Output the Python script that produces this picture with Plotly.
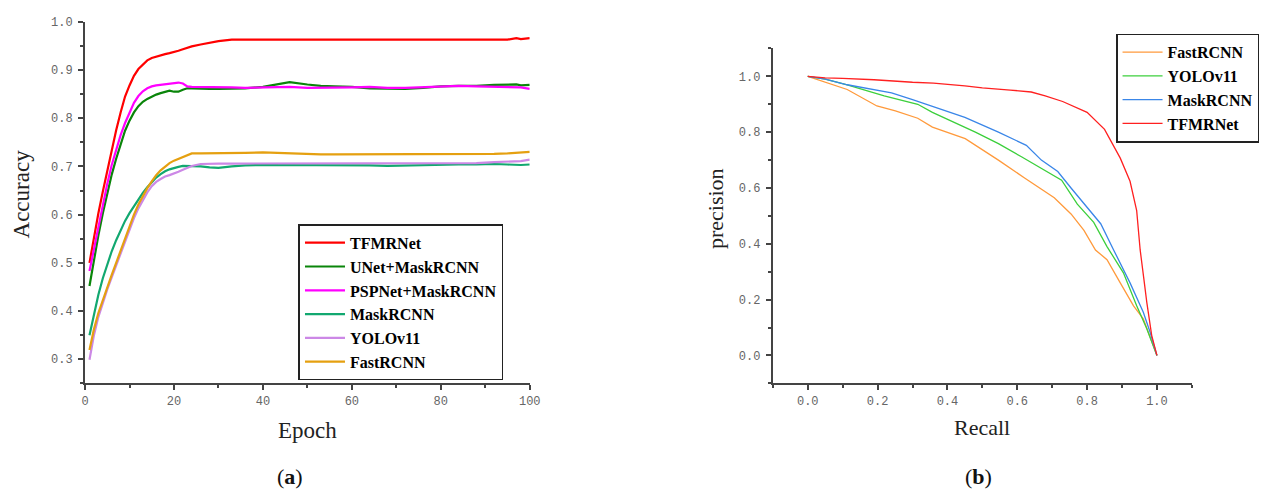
import plotly.graph_objects as go

# ---------------- (a) accuracy vs. epoch ----------------
epochs = [1, 2, 3, 4, 5, 6, 7, 8, 9, 10, 11, 12, 13, 14, 15, 16, 17, 18, 19, 20,
          21, 22, 23, 24, 26, 28, 30, 33, 36, 40, 43, 46, 50, 53, 56, 60, 64, 68,
          72, 76, 80, 84, 88, 92, 95, 97, 98, 100]

acc_tfmrnet = [0.500, 0.553, 0.603, 0.648, 0.692, 0.735, 0.775, 0.812, 0.845, 0.868,
               0.888, 0.902, 0.912, 0.920, 0.925, 0.928, 0.931, 0.933, 0.935, 0.937,
               0.940, 0.943, 0.946, 0.949, 0.953, 0.957, 0.960, 0.963, 0.963, 0.963,
               0.964, 0.963, 0.963, 0.963, 0.963, 0.963, 0.963, 0.963, 0.963, 0.963,
               0.963, 0.963, 0.963, 0.963, 0.963, 0.966, 0.964, 0.966]

acc_unet_mask = [0.452, 0.507, 0.557, 0.603, 0.645, 0.683, 0.716, 0.746, 0.774, 0.795,
                 0.812, 0.825, 0.834, 0.840, 0.845, 0.849, 0.852, 0.855, 0.857, 0.855,
                 0.855, 0.859, 0.862, 0.862, 0.861, 0.861, 0.861, 0.861, 0.862, 0.865,
                 0.870, 0.875, 0.870, 0.867, 0.866, 0.865, 0.862, 0.861, 0.861, 0.863,
                 0.866, 0.867, 0.867, 0.869, 0.870, 0.870, 0.868, 0.869]

acc_psp_mask = [0.483, 0.530, 0.577, 0.622, 0.664, 0.703, 0.736, 0.765, 0.790, 0.813,
                0.832, 0.846, 0.856, 0.862, 0.866, 0.868, 0.869, 0.870, 0.871, 0.872,
                0.874, 0.872, 0.866, 0.865, 0.865, 0.865, 0.864, 0.864, 0.863, 0.864,
                0.865, 0.865, 0.863, 0.863, 0.864, 0.864, 0.865, 0.863, 0.863, 0.864,
                0.865, 0.867, 0.866, 0.865, 0.865, 0.864, 0.864, 0.861]

acc_maskrcnn = [0.350, 0.395, 0.434, 0.468, 0.498, 0.524, 0.547, 0.568, 0.587, 0.603,
                0.618, 0.632, 0.645, 0.657, 0.668, 0.677, 0.684, 0.690, 0.694, 0.697,
                0.699, 0.701, 0.701, 0.700, 0.700, 0.698, 0.697, 0.700, 0.702, 0.703,
                0.703, 0.703, 0.702, 0.703, 0.703, 0.703, 0.702, 0.701, 0.702, 0.703,
                0.703, 0.704, 0.704, 0.705, 0.704, 0.703, 0.703, 0.704]

acc_yolov11 = [0.299, 0.350, 0.388, 0.418, 0.445, 0.470, 0.495, 0.521, 0.547, 0.571,
               0.593, 0.613, 0.631, 0.646, 0.659, 0.668, 0.674, 0.679, 0.682, 0.685,
               0.689, 0.693, 0.697, 0.701, 0.705, 0.706, 0.706, 0.706, 0.706, 0.706,
               0.706, 0.707, 0.707, 0.707, 0.706, 0.707, 0.707, 0.707, 0.707, 0.707,
               0.707, 0.707, 0.707, 0.709, 0.710, 0.710, 0.711, 0.714]

acc_fastrcnn = [0.319, 0.362, 0.396, 0.424, 0.450, 0.475, 0.500, 0.526, 0.552, 0.577,
                0.600, 0.621, 0.639, 0.655, 0.669, 0.682, 0.692, 0.700, 0.707, 0.712,
                0.716, 0.719, 0.724, 0.727, 0.727, 0.727, 0.727, 0.727, 0.728, 0.729,
                0.728, 0.727, 0.725, 0.725, 0.725, 0.725, 0.725, 0.725, 0.726, 0.725,
                0.725, 0.726, 0.726, 0.726, 0.727, 0.728, 0.728, 0.730]

acc_names = ["TFMRNet", "UNet+MaskRCNN", "PSPNet+MaskRCNN", "MaskRCNN", "YOLOv11", "FastRCNN"]
acc_series = [acc_tfmrnet, acc_unet_mask, acc_psp_mask, acc_maskrcnn, acc_yolov11, acc_fastrcnn]
acc_colors = ["#ff0000", "#0a850a", "#ff00ff", "#12a870", "#cc88e6", "#e5a010"]

# ---------------- (b) precision-recall ----------------
pr_names = ["FastRCNN", "YOLOv11", "MaskRCNN", "TFMRNet"]
pr_colors = ["#ff9a3c", "#3ccf3c", "#3a86e8", "#ff2020"]

recall_fastrcnn = [0.0, 0.05, 0.113, 0.198, 0.251, 0.315, 0.357, 0.451, 0.546, 0.621,
                   0.706, 0.754, 0.791, 0.824, 0.857, 0.895, 0.933, 0.961, 1.0]
prec_fastrcnn = [1.0, 0.98, 0.953, 0.894, 0.876, 0.85, 0.818, 0.777, 0.70, 0.636,
                 0.565, 0.507, 0.448, 0.378, 0.343, 0.26, 0.178, 0.131, 0.0]

recall_yolov11 = [0.0, 0.05, 0.113, 0.219, 0.315, 0.357, 0.48, 0.546, 0.612, 0.678,
                  0.727, 0.772, 0.819, 0.857, 0.904, 0.942, 0.971, 1.0]
prec_yolov11 = [1.0, 0.99, 0.97, 0.93, 0.90, 0.871, 0.80, 0.759, 0.712, 0.665,
                0.628, 0.542, 0.477, 0.39, 0.296, 0.178, 0.096, 0.0]

recall_maskrcnn = [0.0, 0.05, 0.113, 0.17, 0.24, 0.30, 0.368, 0.45, 0.546, 0.626,
                   0.669, 0.716, 0.754, 0.801, 0.839, 0.876, 0.923, 0.961, 0.98, 1.0]
prec_maskrcnn = [1.0, 0.99, 0.97, 0.957, 0.941, 0.917, 0.888, 0.853, 0.80, 0.753,
                 0.70, 0.659, 0.60, 0.53, 0.472, 0.378, 0.26, 0.155, 0.085, 0.0]

recall_tfmrnet = [0.0, 0.05, 0.10, 0.19, 0.30, 0.36, 0.45, 0.50, 0.58, 0.64, 0.68,
                  0.73, 0.80, 0.85, 0.895, 0.923, 0.942, 0.952, 0.962, 0.971, 0.985, 1.0]
prec_tfmrnet = [1.0, 0.995, 0.993, 0.988, 0.979, 0.976, 0.966, 0.959, 0.951, 0.944, 0.93,
                0.91, 0.871, 0.81, 0.707, 0.624, 0.519, 0.378, 0.28, 0.19, 0.072, 0.0]

pr_recall = [recall_fastrcnn, recall_yolov11, recall_maskrcnn, recall_tfmrnet]
pr_precision = [prec_fastrcnn, prec_yolov11, prec_maskrcnn, prec_tfmrnet]

# ---------------- figure ----------------
W, H = 1274, 493
fig = go.Figure()

for name, ys, col in zip(acc_names, acc_series, acc_colors):
    fig.add_trace(go.Scatter(
        x=epochs, y=ys, mode="lines", name=name,
        line=dict(color=col, width=2.2),
        xaxis="x", yaxis="y", legend="legend"))

for name, rx, py, col in zip(pr_names, pr_recall, pr_precision, pr_colors):
    fig.add_trace(go.Scatter(
        x=rx, y=py, mode="lines", name=name,
        line=dict(color=col, width=1.3),
        xaxis="x2", yaxis="y2", legend="legend2"))

TICK_FONT = dict(family="Liberation Mono", size=12, color="#666666")
SERIF = "Liberation Serif"
AXLINE = "#444444"


def px_x(p):
    return p / W


def px_y(p):
    return 1 - p / H


def axis_style(**kw):
    base = dict(
        showline=True, linecolor=AXLINE, linewidth=2,
        ticks="outside", ticklen=5, tickwidth=1.5, tickcolor=AXLINE,
        showgrid=False, zeroline=False, tickfont=TICK_FONT,
        minor=dict(ticks="outside", ticklen=3, tickwidth=1.5, tickcolor=AXLINE, showgrid=False),
    )
    base.update(kw)
    return base


legend_common = dict(
    bgcolor="white", bordercolor="#222222", borderwidth=1.5,
    font=dict(family=SERIF, size=16, color="#000000", weight="bold"),
    yanchor="top", tracegroupgap=0, itemwidth=40,
)

fig.update_layout(
    width=W, height=H,
    margin=dict(l=0, r=0, t=0, b=0),
    paper_bgcolor="white", plot_bgcolor="white",
    xaxis=axis_style(domain=[px_x(82), px_x(532)], range=[0, 100], dtick=20, tick0=0,
                     minor_dtick=10, anchor="y"),
    yaxis=axis_style(domain=[px_y(382), px_y(16)], range=[0.25, 1.0], dtick=0.1, tick0=0,
                     tickformat=".1f", minor_dtick=0.05, anchor="x", ticklabelstandoff=3),
    xaxis2=axis_style(domain=[px_x(778), px_x(1202)], range=[-0.1, 1.1], dtick=0.2, tick0=0,
                      tickformat=".1f", minor_dtick=0.1, anchor="y2"),
    yaxis2=axis_style(domain=[px_y(382), px_y(43)], range=[-0.1, 1.1], dtick=0.2, tick0=0,
                      tickformat=".1f", minor_dtick=0.1, anchor="x2", ticklabelstandoff=3),
    legend=dict(legend_common, x=px_x(298), xanchor="left", y=px_y(221)),
    legend2=dict(legend_common, x=px_x(1270), xanchor="right", y=px_y(28)),
    showlegend=True,
)

title_font = dict(family=SERIF, size=23, color="#222222")
label_font = dict(family=SERIF, size=22, color="#111111")
annotations = [
    dict(text="Accuracy", x=px_x(18), y=px_y(190), textangle=-90, font=title_font),
    dict(text="Epoch", x=px_x(307), y=px_y(430), font=title_font),
    dict(text="precision", x=px_x(720), y=px_y(205), textangle=-90, font=dict(title_font, size=22)),
    dict(text="Recall", x=px_x(990), y=px_y(427), font=dict(title_font, size=22)),
    dict(text="(<b>a</b>)", x=px_x(289), y=px_y(476), font=label_font),
    dict(text="(<b>b</b>)", x=px_x(986), y=px_y(476), font=label_font),
]
for a in annotations:
    a.update(xref="paper", yref="paper", showarrow=False, xanchor="center", yanchor="middle")
fig.update_layout(annotations=annotations)

fig.write_html("out.html")
